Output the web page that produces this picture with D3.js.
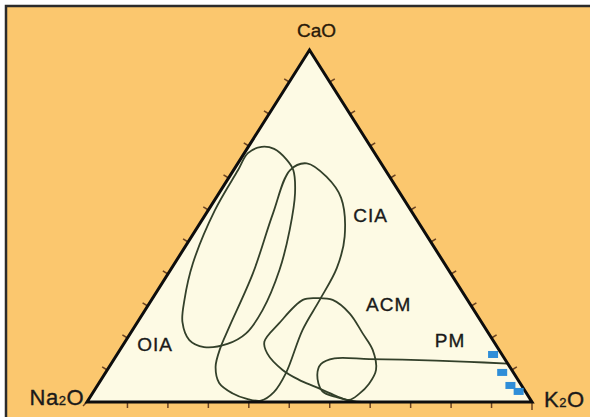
<!DOCTYPE html>
<html>
<head>
<meta charset="utf-8">
<script src="https://cdn.jsdelivr.net/npm/d3@7"></script>
<style>
  html, body { margin: 0; padding: 0; background: #fff; }
  svg { display: block; }
</style>
</head>
<body>
<div id="chart"></div>
<script>
// compositions are [CaO, Na2O, K2O] in %
const fieldNames = ["OIA", "CIA", "ACM", "PM"];

const fieldOIA = [
  [72.5, 24.5, 3.0], [71.9, 22.0, 6.1], [68.8, 20.7, 10.5], [65.9, 20.7, 13.4],
  [59.3, 23.6, 17.1], [48.9, 30.0, 21.1], [37.5, 38.0, 24.5], [26.1, 47.5, 26.4],
  [19.5, 54.5, 26.0], [16.5, 60.2, 23.3], [15.6, 65.9, 18.5], [17.6, 68.2, 14.2],
  [22.7, 67.2, 10.1], [29.0, 63.6, 7.4], [39.4, 56.5, 4.1], [54.5, 44.0, 1.5],
  [65.9, 33.1, 1.0], [70.7, 28.5, 0.8]
];

const fieldCIA = [
  [67.8, 16.7, 15.5], [64.0, 14.2, 21.8], [58.0, 13.9, 28.1], [47.0, 18.6, 34.4],
  [38.1, 24.8, 37.1], [29.0, 33.2, 37.8], [20.5, 41.3, 38.2], [8.2, 51.2, 40.6],
  [2.8, 56.6, 40.6], [0.4, 60.7, 38.9], [0.9, 63.6, 35.5], [2.5, 66.1, 31.4],
  [5.4, 67.6, 27.0], [10.0, 66.1, 23.9], [15.3, 62.4, 22.3], [21.4, 57.3, 21.3],
  [36.6, 44.4, 19.0], [53.6, 31.4, 15.0], [65.9, 21.4, 12.7]
];

const fieldACM = [
  [29.5, 33.7, 36.8], [29.0, 30.3, 40.7], [25.2, 28.4, 46.4], [19.5, 28.3, 52.2],
  [14.8, 28.4, 56.8], [9.1, 30.5, 60.4], [5.1, 34.1, 60.8], [2.3, 37.7, 60.0],
  [0.6, 40.8, 58.6], [1.7, 43.1, 55.2], [4.3, 46.5, 49.2], [6.3, 49.2, 44.5],
  [9.1, 51.5, 39.4], [13.8, 52.6, 33.6], [17.1, 51.6, 31.3], [22.4, 45.6, 32.0],
  [29.0, 37.0, 34.0]
];

// PM is open: it runs from the K2O-CaO side to the base
const fieldPM = [
  [10.9, 0.0, 89.1], [11.4, 8.4, 80.2], [11.9, 19.4, 68.7], [12.2, 30.5, 57.3],
  [12.4, 38.2, 49.4], [10.8, 42.0, 47.2], [7.7, 44.4, 47.9], [3.1, 45.6, 51.3],
  [1.3, 43.1, 55.6], [0.1, 39.3, 60.6], [0.0, 35.0, 65.0]
];

const samples = [
  [13.5, 2.0, 84.5], [8.4, 2.5, 89.1], [4.7, 2.5, 92.8], [3.0, 1.5, 95.5]
];

const labelPos = [
  [16.2, 76.6, 7.2],   // OIA
  [53.1, 9.7, 37.2],   // CIA
  [27.6, 18.4, 54.0],  // ACM
  [17.6, 9.6, 72.8]    // PM
];

const tickSteps = 11;

const width = 590, height = 417;

const svg = d3.select("#chart").append("svg")
  .attr("width", width)
  .attr("height", height);

// fondo naranja con marco
svg.append("rect")
  .attr("x", 6).attr("y", 6)
  .attr("width", 620).attr("height", 440)
  .attr("fill", "#fbc76e")
  .attr("stroke", "#2b2b2b")
  .attr("stroke-width", 2.5);

// ternary -> pixel
const x = d3.scaleLinear().domain([0, 100]).range([87, 532]);
const y = d3.scaleLinear().domain([0, 100]).range([402, 50]);
const project = d => [x(d[2] + d[0] / 2), y(d[0])];

const corners = [[0, 100, 0], [0, 0, 100], [100, 0, 0]].map(project);

svg.append("path")
  .attr("d", "M" + corners.join("L") + "Z")
  .attr("fill", "#fdfae4");

// fields
const closed = d3.line().curve(d3.curveCatmullRomClosed.alpha(0.5));
const open = d3.line().curve(d3.curveCatmullRom.alpha(0.5));

svg.selectAll(".field")
  .data([fieldOIA, fieldCIA, fieldACM])
  .enter().append("path")
    .attr("class", "field")
    .attr("d", d => closed(d.map(project)))
    .attr("fill", "none")
    .attr("stroke", "#33402a")
    .attr("stroke-width", 1.8);

svg.append("path")
  .attr("d", open(fieldPM.map(project)))
  .attr("fill", "none")
  .attr("stroke", "#33402a")
  .attr("stroke-width", 1.8);

// ticks
const tickLen = 6;
const L = corners[0], R = corners[1], T = corners[2];
function normal(a, b, sign) {
  const dx = b[0] - a[0], dy = b[1] - a[1];
  const n = Math.hypot(dx, dy);
  return [sign * dy / n, -sign * dx / n];
}
const edges = [
  { pt: i => [0, 100 - i, i], n: [0, 1] },                 // base
  { pt: i => [i, 100 - i, 0], n: normal(L, T, 1) },        // Na2O-CaO
  { pt: i => [i, 0, 100 - i], n: normal(R, T, -1) }        // K2O-CaO
];
const tickData = [];
edges.forEach(e => {
  d3.range(1, tickSteps).forEach(s => {
    const p = project(e.pt(100 * s / tickSteps));
    tickData.push([p, [p[0] + e.n[0] * tickLen, p[1] + e.n[1] * tickLen]]);
  });
});
tickData.push([R, [R[0], R[1] + tickLen + 2]]);
tickData.push([L, [L[0] - 4, L[1] + 4]]);

svg.selectAll(".tick")
  .data(tickData)
  .enter().append("line")
    .attr("class", "tick")
    .attr("x1", d => d[0][0]).attr("y1", d => d[0][1])
    .attr("x2", d => d[1][0]).attr("y2", d => d[1][1])
    .attr("stroke", "#6a4322")
    .attr("stroke-width", 1.5);

// triangle outline
svg.append("path")
  .attr("d", "M" + corners.join("L") + "Z")
  .attr("fill", "none")
  .attr("stroke", "#0d0d0d")
  .attr("stroke-width", 3)
  .attr("stroke-linejoin", "miter");

// samples
svg.selectAll(".sample")
  .data(samples)
  .enter().append("rect")
    .attr("class", "sample")
    .attr("x", d => project(d)[0] - 5)
    .attr("y", d => project(d)[1] - 3.5)
    .attr("width", 10).attr("height", 7)
    .attr("fill", "#2f8ed8");

// field labels
svg.selectAll(".flabel")
  .data(fieldNames)
  .enter().append("text")
    .attr("class", "flabel")
    .attr("x", (d, i) => project(labelPos[i])[0])
    .attr("y", (d, i) => project(labelPos[i])[1])
    .attr("text-anchor", "middle")
    .attr("dominant-baseline", "central")
    .attr("font-family", "Liberation Sans, Arial, sans-serif")
    .attr("font-size", 19)
    .attr("letter-spacing", 1)
    .attr("fill", "#1a1a1a")
    .attr("stroke", "#1a1a1a")
    .attr("stroke-width", 0.35)
    .text(d => d);

// vertex labels
const vfont = "Liberation Sans, Arial, sans-serif";
svg.append("text")
  .attr("x", T[0] + 7).attr("y", 37)
  .attr("text-anchor", "middle")
  .attr("font-family", vfont).attr("font-size", 19)
  .attr("fill", "#2a1a0a")
  .attr("stroke", "#2a1a0a")
  .attr("stroke-width", 0.35)
  .text("CaO");

function oxide(xx, yy, a, b, anchor) {
  const t = svg.append("text")
    .attr("x", xx).attr("y", yy)
    .attr("text-anchor", anchor)
    .attr("font-family", vfont).attr("font-size", 22)
    .attr("letter-spacing", 0.5)
    .attr("fill", "#1a1a1a")
    .attr("stroke", "#1a1a1a")
    .attr("stroke-width", 0.35);
  t.append("tspan").text(a);
  t.append("tspan").attr("font-size", 13).text("2");
  t.append("tspan").text(b);
}
oxide(L[0] - 3, 405, "Na", "O", "end");
oxide(R[0] + 12, 407, "K", "O", "start");
</script>
</body>
</html>
